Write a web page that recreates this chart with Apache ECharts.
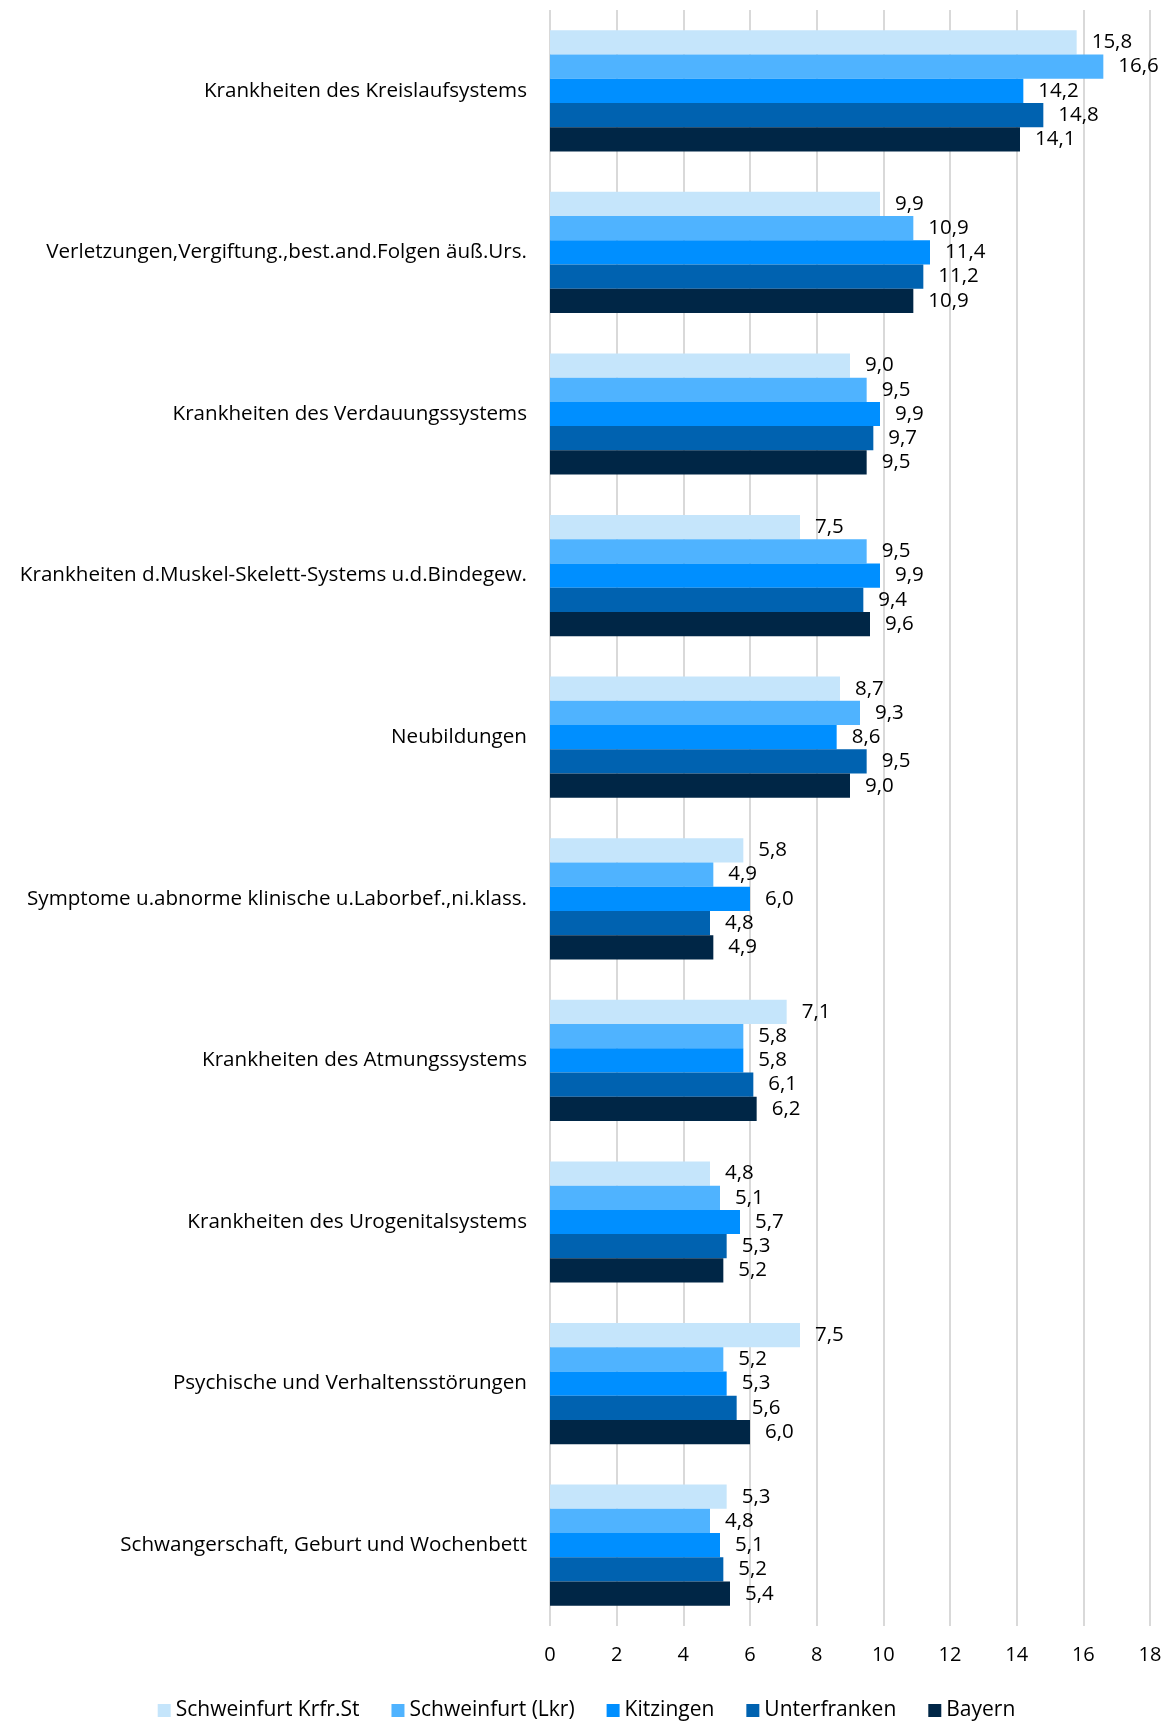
<!DOCTYPE html>
<html><head><meta charset="utf-8">
<script src="https://cdn.jsdelivr.net/npm/echarts@6/dist/echarts.min.js"></script>
<style>html,body{margin:0;padding:0;background:#fff}#c{width:1173px;height:1722px}</style>
</head><body><div id="c"></div>
<script>
const categories = [
  "Krankheiten des Kreislaufsystems",
  "Verletzungen,Vergiftung.,best.and.Folgen äuß.Urs.",
  "Krankheiten des Verdauungssystems",
  "Krankheiten d.Muskel-Skelett-Systems u.d.Bindegew.",
  "Neubildungen",
  "Symptome u.abnorme klinische u.Laborbef.,ni.klass.",
  "Krankheiten des Atmungssystems",
  "Krankheiten des Urogenitalsystems",
  "Psychische und Verhaltensstörungen",
  "Schwangerschaft, Geburt und Wochenbett"
];
const seriesNames = ["Schweinfurt Krfr.St", "Schweinfurt (Lkr)", "Kitzingen", "Unterfranken", "Bayern"];
const schweinfurtStadt = [15.8, 9.9, 9.0, 7.5, 8.7, 5.8, 7.1, 4.8, 7.5, 5.3];
const schweinfurtLkr   = [16.6, 10.9, 9.5, 9.5, 9.3, 4.9, 5.8, 5.1, 5.2, 4.8];
const kitzingen        = [14.2, 11.4, 9.9, 9.9, 8.6, 6.0, 5.8, 5.7, 5.3, 5.1];
const unterfranken     = [14.8, 11.2, 9.7, 9.4, 9.5, 4.8, 6.1, 5.3, 5.6, 5.2];
const bayern           = [14.1, 10.9, 9.5, 9.6, 9.0, 4.9, 6.2, 5.2, 6.0, 5.4];
const xTicks = [0, 2, 4, 6, 8, 10, 12, 14, 16, 18];

const allData = [schweinfurtStadt, schweinfurtLkr, kitzingen, unterfranken, bayern];
const colors = ["#c5e5fb", "#4fb3ff", "#008fff", "#0062b0", "#002646"];
const FONT = "'Open Sans', 'Noto Sans', sans-serif";

const chart = echarts.init(document.getElementById('c'));
chart.setOption({
  animation: false,
  color: colors,
  textStyle: { fontFamily: FONT },
  grid: { left: 550, right: 23, top: 10, bottom: 96, containLabel: false },
  legend: {
    bottom: -4, left: 'center',
    itemWidth: 13, itemHeight: 13, itemGap: 32,
    icon: 'rect',
    textStyle: { fontSize: 21, color: '#000', fontFamily: FONT },
    data: seriesNames
  },
  xAxis: {
    type: 'value', min: xTicks[0], max: xTicks[xTicks.length - 1], interval: 2,
    axisLine: { show: false }, axisTick: { show: false },
    axisLabel: { fontSize: 20, color: '#000', margin: 19, fontFamily: FONT },
    splitLine: { show: true, lineStyle: { color: '#d9d9d9', width: 2 } }
  },
  yAxis: {
    type: 'category', data: categories, inverse: true,
    axisLine: { show: false }, axisTick: { show: false },
    axisLabel: { fontSize: 20.6, color: '#000', margin: 23, fontFamily: FONT }
  },
  series: allData.map((d, i) => ({
    type: 'bar', name: seriesNames[i], data: d,
    barGap: '0%', barCategoryGap: '25%',
    label: {
      show: true, position: 'right', distance: 15,
      fontSize: 20.5, color: '#000', fontFamily: FONT,
      formatter: p => p.value.toFixed(1).replace('.', ',')
    }
  }))
});
</script></body></html>
